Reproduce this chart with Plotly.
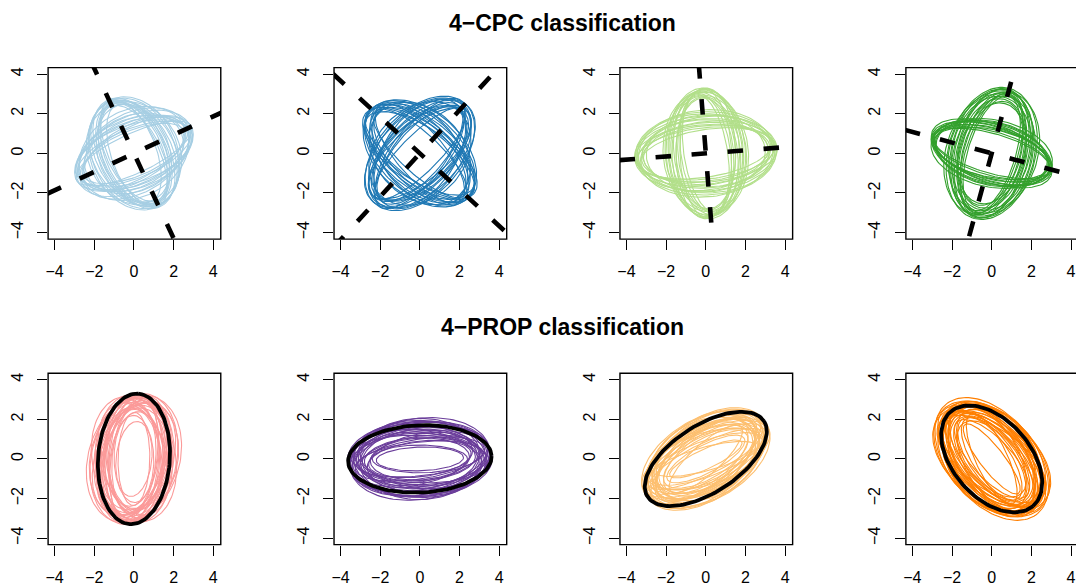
import numpy as np
import plotly.graph_objects as go

# ---------------- data ----------------
TITLES = ["4−CPC classification", "4−PROP classification"]
TICKS = [-4, -2, 0, 2, 4]
CPC_COLORS = ["#A6CEE3", "#1F78B4", "#B2DF8A", "#33A02C"]
PROP_COLORS = ["#FB9A99", "#6A3D9A", "#FDBF6F", "#FF7F00"]

cpc1_ang = [25, 29, 21, 27, 23, 31, 19, 26, 24, 28, 22, 25, 30, 20,
            115, 111, 119, 113, 117, 109, 121, 115, 112, 118, 114, 116, 110, 120]
cpc1_a = [3.2, 3.05, 2.95, 3.15, 2.8, 3.0, 3.1, 2.7, 3.2, 2.9, 3.05, 2.6, 2.85, 3.0,
          2.95, 2.8, 2.9, 2.7, 3.0, 2.6, 2.85, 2.75, 2.95, 2.65, 2.9, 2.8, 2.55, 2.7]
cpc1_b = [1.0, 1.3, 1.6, 1.85, 1.15, 2.0, 1.45, 1.7, 1.55, 2.2, 1.25, 1.9, 1.4, 1.75,
          1.25, 1.6, 1.9, 1.45, 1.75, 1.15, 2.05, 1.55, 2.2, 1.35, 2.1, 1.65, 1.8, 2.3]

cpc2_ang = [-42, -47, -38, -44, -36, -49, -41, -45, -39, -43, -50, -40, -46, -34,
            47, 51, 44, 49, 42, 53, 46, 48, 45, 50, 43, 55, 47, 40]
cpc2_a = [3.3, 3.2, 3.35, 3.05, 3.4, 3.15, 3.3, 2.95, 3.25, 3.1, 3.0, 3.35, 2.9, 3.2,
          3.3, 3.1, 3.4, 3.0, 3.2, 3.35, 2.95, 3.4, 3.15, 3.25, 3.05, 3.1, 2.9, 3.2]
cpc2_b = [2.0, 1.6, 1.3, 1.85, 1.5, 1.2, 2.15, 1.45, 1.75, 1.0, 1.9, 1.6, 2.2, 1.35,
          1.7, 1.4, 1.95, 1.2, 1.55, 1.3, 1.65, 2.1, 0.95, 2.0, 1.5, 1.8, 2.25, 1.35]

cpc3_ang = [4, 7, 2, 6, 3, 9, 0, 5, 4, 8, 1, 6, 3, 5,
            94, 97, 92, 96, 93, 99, 90, 95, 94, 98, 91, 96, 93, 95]
cpc3_a = [3.6, 3.45, 3.55, 3.25, 3.5, 3.35, 3.45, 3.15, 3.6, 3.3, 3.2, 3.5, 3.0, 3.4,
          3.3, 3.1, 3.25, 2.9, 3.2, 3.0, 3.3, 2.85, 3.15, 3.05, 3.25, 2.95, 2.8, 3.1]
cpc3_b = [1.9, 1.6, 2.1, 1.4, 1.75, 1.2, 2.0, 1.55, 1.45, 1.85, 1.7, 1.3, 1.95, 2.2,
          1.9, 1.6, 1.3, 1.75, 2.0, 1.1, 1.5, 1.4, 1.85, 1.25, 1.7, 2.05, 1.5, 2.15]

cpc4_ang = [-15, -12, -18, -13, -16, -20, -14, -11, -17, -15, -13, -16,
            75, 72, 77, 73, 76, 79, 74, 71, 78, 75, 73, 76, 74, 77, 72, 75]
cpc4_a = [3.1, 3.0, 3.15, 2.9, 3.05, 3.2, 2.95, 3.1, 3.0, 3.15, 2.85, 3.05,
          3.4, 3.2, 3.3, 3.0, 3.35, 2.9, 3.1, 3.25, 2.8, 3.15, 3.0, 3.3, 2.7, 3.05, 3.2, 2.6]
cpc4_b = [1.5, 1.2, 1.35, 1.6, 1.1, 1.45, 1.3, 1.7, 1.4, 1.25, 1.55, 1.0,
          2.2, 1.9, 2.05, 1.6, 1.75, 2.0, 1.4, 2.3, 1.7, 1.55, 1.2, 1.85, 1.45, 2.15, 1.3, 1.65]

cpc_axis_ang = [[25, 115], [-42.5, 47.5], [4.5, 94.5], [-15.2, 74.8]]
cpc_axis_phase = [[-1.26, 0.64], [1.23, 0.70], [-0.80, 0.05], [0.83, 1.02]]

prop1_ang = [86, 80, 92, 75, 84, 96, 78, 88, 82, 90, 72, 86, 99, 80, 85, 76, 93, 83,
             88, 79, 91, 70, 84, 87, 73, 101, 94, 81, 89, 77, 67, 106]
prop1_a = [3.3, 3.2, 3.1, 3.25, 2.9, 3.0, 3.35, 2.7, 3.15, 2.5, 3.1, 2.8, 2.9, 2.6, 3.2,
           2.9, 3.25, 2.4, 3.05, 2.75, 2.2, 2.95, 1.9, 3.3, 3.3, 3.2, 2.6, 3.0, 2.35, 3.1,
           3.0, 2.9]
prop1_b = [1.8, 1.6, 1.7, 1.5, 1.9, 1.4, 2.15, 1.3, 2.0, 1.5, 1.7, 1.1, 1.6, 1.75, 1.25,
           1.45, 1.95, 1.2, 1.55, 1.9, 1.0, 1.6, 0.9, 1.45, 2.3, 2.1, 1.35, 1.15, 0.8, 2.2,
           1.9, 1.7]

prop2_ang = [2, 5, -3, 8, 0, 4, 10, -5, 3, 6, 1, 7, -2, 4, 9, 0, 5, -4, 3, 12, 2, 6,
             -1, 8, -6, 11, 3, 1]
prop2_a = [3.6, 3.5, 3.4, 3.55, 3.2, 3.0, 3.45, 3.3, 2.8, 3.6, 3.1, 2.6, 3.5, 2.9, 3.3,
           2.4, 3.4, 3.0, 3.55, 2.7, 2.2, 3.2, 3.35, 3.05, 3.15, 3.5, 2.5, 3.65]
prop2_b = [1.7, 1.9, 1.5, 2.05, 1.3, 1.6, 1.8, 1.75, 1.1, 1.4, 2.05, 0.9, 1.2, 1.5, 1.0,
           0.7, 1.65, 1.35, 1.85, 1.25, 0.6, 0.85, 1.95, 1.15, 1.45, 1.55, 1.05, 1.9]

prop3_ang = [33, 28, 36, 25, 31, 38, 30, 22, 34, 27, 35, 20, 29, 32, 24, 37, 26, 30,
             33, 21, 28, 35, 40, 18, 31, 27, 36, 23, 15, 25, 42, 30]
prop3_a = [3.4, 3.2, 3.3, 3.5, 3.0, 3.1, 3.45, 2.9, 2.8, 3.3, 3.5, 3.0, 2.6, 3.25, 2.75,
           3.35, 3.1, 2.4, 3.0, 3.2, 2.2, 2.95, 3.0, 3.1, 2.7, 3.4, 2.5, 2.85, 2.6, 2.0,
           2.4, 3.55]
prop3_b = [1.7, 1.5, 1.9, 1.4, 1.6, 1.3, 1.8, 1.2, 1.5, 1.1, 2.0, 0.9, 1.35, 2.0, 1.65,
           1.25, 0.8, 1.0, 1.75, 1.45, 0.7, 1.4, 1.55, 1.3, 1.85, 1.6, 1.15, 1.95, 0.6, 0.5,
           0.75, 2.05]

prop4_ang = [-49, -52, -45, -55, -50, -42, -58, -47, -53, -44, -51, -56, -48, -38,
             -54, -46, -60, -50, -43, -52, -57, -49, -45, -53, -62, -40, -47, -55,
             -52, -65, -45, -35]
prop4_a = [3.2, 3.1, 3.3, 3.0, 3.6, 3.0, 3.2, 2.8, 3.35, 2.9, 2.6, 3.1, 3.25, 3.4,
           2.5, 3.05, 2.9, 2.3, 3.15, 2.7, 2.4, 3.0, 3.45, 2.95, 2.75, 3.2, 2.55, 3.3,
           2.2, 2.5, 3.5, 3.2]
prop4_b = [1.9, 2.1, 1.8, 1.7, 2.2, 1.6, 1.85, 1.5, 1.6, 2.05, 1.3, 1.45, 2.2, 2.1,
           1.1, 1.35, 1.9, 1.2, 1.55, 1.65, 0.95, 1.25, 1.7, 2.15, 1.4, 1.75, 1.0, 1.95,
           0.6, 0.8, 2.2, 1.5]

prop_ref_ang = [86.3, 2.4, 33, -48.7]
prop_ref_a = [3.3, 3.62, 3.5, 3.16]
prop_ref_b = [1.81, 1.7, 1.7, 1.95]

# ---------------- helpers ----------------
T = np.linspace(0, 2 * np.pi, 121)


def ellipse_xy(ang, a, b):
    th = np.deg2rad(ang)
    x = a * np.cos(T) * np.cos(th) - b * np.sin(T) * np.sin(th)
    y = a * np.cos(T) * np.sin(th) + b * np.sin(T) * np.cos(th)
    return x, y


def ellipses_trace(angs, aa, bb, color, width, axn):
    xs, ys = [], []
    for g, a, b in zip(angs, aa, bb):
        x, y = ellipse_xy(g, a, b)
        xs += list(x) + [None]
        ys += list(y) + [None]
    return go.Scatter(x=xs, y=ys, mode="lines", line=dict(color=color, width=width),
                      xaxis="x%d" % axn, yaxis="y%d" % axn, hoverinfo="skip",
                      showlegend=False)


W, H = 1076, 586
PX = 20.08
HALF = 86.9
CX = [132.3, 420.1, 707.9, 995.7]
CY = [155.5, 465.3]
RNG = HALF / PX
PERIOD = 1.80
DASH = "15.5px,20.6px"
FONT = "Liberation Sans, Arial, sans-serif"

cpc_sets = [(cpc1_ang, cpc1_a, cpc1_b), (cpc2_ang, cpc2_a, cpc2_b),
            (cpc3_ang, cpc3_a, cpc3_b), (cpc4_ang, cpc4_a, cpc4_b)]
prop_sets = [(prop1_ang, prop1_a, prop1_b), (prop2_ang, prop2_a, prop2_b),
             (prop3_ang, prop3_a, prop3_b), (prop4_ang, prop4_a, prop4_b)]

fig = go.Figure()
layout = dict(width=W, height=H, margin=dict(l=0, r=0, t=0, b=0),
              paper_bgcolor="white", plot_bgcolor="white", showlegend=False)
shapes = []
annotations = []

for r in range(2):
    for k in range(4):
        axn = r * 4 + k + 1
        left_px = CX[k] - HALF
        right_px = min(W, CX[k] + HALF)
        xd = [left_px / W, right_px / W]
        yd = [1 - (CY[r] + HALF) / H, 1 - (CY[r] - HALF) / H]
        xr = [-RNG, -RNG + (right_px + 1.0 - left_px) / PX]
        common = dict(tickvals=TICKS,
                      ticktext=[("−%d" % -v) if v < 0 else str(v) for v in TICKS],
                      ticks="outside", ticklen=10, tickwidth=1.3, tickcolor="black",
                      showgrid=False, zeroline=False, showline=False,
                      ticklabeloverflow="allow",
                      tickfont=dict(family=FONT, size=16, color="black"))
        layout["xaxis%d" % axn] = dict(domain=xd, range=xr, anchor="y%d" % axn,
                                      ticklabelstandoff=8, **common)
        layout["yaxis%d" % axn] = dict(domain=yd, range=[-RNG, RNG], anchor="x%d" % axn,
                                      tickangle=-90, ticklabelstandoff=8, **common)
        shapes.append(dict(type="rect", xref="paper", yref="paper",
                           x0=left_px / W, x1=(CX[k] + HALF) / W, y0=yd[0], y1=yd[1],
                           line=dict(color="black", width=1.4), layer="above"))
        if r == 0:
            g, a, b = cpc_sets[k]
            fig.add_trace(ellipses_trace(g, a, b, CPC_COLORS[k], 1.1, axn))
            for ang, ph in zip(cpc_axis_ang[k], cpc_axis_phase[k]):
                th = np.deg2rad(ang)
                kk = np.ceil((ph + 6.6) / PERIOD)
                t0 = ph - kk * PERIOD
                t1 = 6.6
                fig.add_trace(go.Scatter(
                    x=[t0 * np.cos(th), t1 * np.cos(th)],
                    y=[t0 * np.sin(th), t1 * np.sin(th)],
                    mode="lines", line=dict(color="black", width=4.6, dash=DASH),
                    xaxis="x%d" % axn, yaxis="y%d" % axn, hoverinfo="skip",
                    showlegend=False))
        else:
            g, a, b = prop_sets[k]
            fig.add_trace(ellipses_trace(g, a, b, PROP_COLORS[k], 1.1, axn))
            fig.add_trace(ellipses_trace([prop_ref_ang[k]], [prop_ref_a[k]],
                                         [prop_ref_b[k]], "black", 3.8, axn))

for r, (title, ypx) in enumerate(zip(TITLES, [23.5, 332.0])):
    annotations.append(dict(text="<b>%s</b>" % title, xref="paper", yref="paper",
                            x=563.5 / W, y=1 - ypx / H, xanchor="center", yanchor="middle",
                            showarrow=False,
                            font=dict(family=FONT, size=23, color="black")))

layout["shapes"] = shapes
layout["annotations"] = annotations
fig.update_layout(**layout)
fig.write_html("out.html")
